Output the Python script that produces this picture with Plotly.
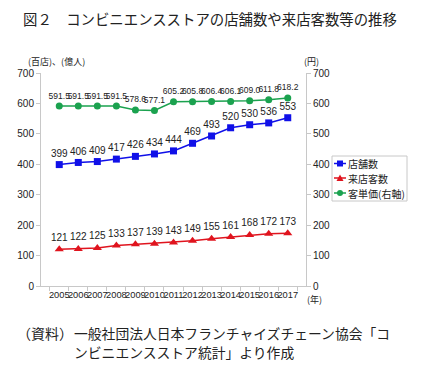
import plotly.graph_objects as go

years = [str(y) for y in range(2005, 2018)]
stores = [399, 406, 409, 417, 426, 434, 444, 469, 493, 520, 530, 536, 553]
visitors = [121, 122, 125, 133, 137, 139, 143, 149, 155, 161, 168, 172, 173]
unit_price = [591.5, 591.5, 591.5, 591.5, 578.6, 577.1, 605.2, 605.8, 606.4, 606.1, 609.0, 611.8, 618.2]
y_ticks = [0, 100, 200, 300, 400, 500, 600, 700]
series_names = ["店舗数", "来店客数", "客単価(右軸)"]
series_colors = ["#1010E8", "#E0141E", "#1BA24F"]

FONT = "Noto Sans CJK JP"
NUM = "Liberation Sans"
W, H = 421, 369
L, R, T, B = 41, 306, 73, 286  # plot area in pixels

fig = go.Figure()
fig.add_trace(go.Scatter(
    x=years, y=stores, name=series_names[0], mode="lines+markers+text",
    line=dict(color=series_colors[0], width=1.5), marker=dict(symbol="square", size=7, color=series_colors[0]),
    text=[str(v) for v in stores], textposition="top center",
    textfont=dict(size=10, color="#222222", family=NUM)))
fig.add_trace(go.Scatter(
    x=years, y=visitors, name=series_names[1], mode="lines+markers+text",
    line=dict(color=series_colors[1], width=1.5), marker=dict(symbol="triangle-up", size=8, color=series_colors[1]),
    text=[str(v) for v in visitors], textposition="top center",
    textfont=dict(size=10, color="#222222", family=NUM)))
fig.add_trace(go.Scatter(
    x=years, y=unit_price, name=series_names[2], mode="lines+markers+text", yaxis="y2",
    line=dict(color=series_colors[2], width=1.5), marker=dict(symbol="circle", size=7, color=series_colors[2]),
    text=[f"{v:.1f}" for v in unit_price], textposition="top center",
    textfont=dict(size=8.5, color="#222222", family=NUM)))

axis_common = dict(showgrid=False, showline=True, linecolor="#C8C8C8", ticks="outside",
                   ticklen=4, tickcolor="#C8C8C8", automargin=False, zeroline=False)

fig.update_layout(
    width=W, height=H,
    margin=dict(l=L, r=W - R, t=T, b=H - B, autoexpand=False),
    paper_bgcolor="white", plot_bgcolor="white",
    font=dict(family=FONT, color="#222222"),
    showlegend=False,
    xaxis=dict(type="category", tickson="boundaries",
               tickfont=dict(size=9.3, family=NUM), tickangle=0, **axis_common),
    yaxis=dict(range=[0, 700], tickvals=y_ticks,
               tickfont=dict(size=10, family=NUM), **axis_common),
    yaxis2=dict(range=[0, 700], tickvals=y_ticks, overlaying="y", side="right",
                tickfont=dict(size=10, family=NUM), **axis_common),
)

def px(x):
    return (x - L) / (R - L)

def py(y):
    return (B - y) / (B - T)

ann = [
    dict(text="図２　コンビニエンスストアの店舗数や来店客数等の推移", x=21, y=18, size=14.4),
    dict(text="(百店)、(億人)", x=26, y=62, size=9),
    dict(text="(円)", x=302, y=62, size=9),
    dict(text="(年)", x=305, y=299, size=9),
    dict(text="（資料）", x=15, y=333, size=14),
    dict(text="一般社団法人日本フランチャイズチェーン協会「コ", x=72, y=333, size=13.8),
    dict(text="ンビニエンスストア統計」より作成", x=72, y=352, size=13.8),
]
for a in ann:
    fig.add_annotation(text=a["text"], xref="paper", yref="paper",
                       x=px(a["x"]), y=py(a["y"]),
                       xanchor="left", yanchor="middle", showarrow=False,
                       font=dict(size=a["size"], family=FONT, color="#222222"))

# legend box drawn manually (fits narrow right margin as in the reference)
fig.add_shape(type="rect", xref="paper", yref="paper",
              x0=px(332), x1=px(407), y0=py(156), y1=py(201),
              line=dict(color="#C8C8C8", width=1), fillcolor="white", layer="above")
rows = [163.5, 178, 193]
symbols = ["square", "triangle", "circle"]
for name, color, sym, ry in zip(series_names, series_colors, symbols, rows):
    fig.add_shape(type="line", xref="paper", yref="paper",
                  x0=px(334), x1=px(346), y0=py(ry), y1=py(ry),
                  line=dict(color=color, width=1.5))
    if sym == "square":
        fig.add_shape(type="rect", xref="paper", yref="paper",
                      x0=px(337), x1=px(343), y0=py(ry - 3), y1=py(ry + 3),
                      line=dict(width=0), fillcolor=color)
    elif sym == "circle":
        fig.add_shape(type="circle", xref="paper", yref="paper",
                      x0=px(337), x1=px(343), y0=py(ry - 3), y1=py(ry + 3),
                      line=dict(width=0), fillcolor=color)
    else:
        fig.add_shape(type="path", xref="paper", yref="paper",
                      path=f"M {px(336.5)} {py(ry + 3)} L {px(343.5)} {py(ry + 3)} L {px(340)} {py(ry - 3.5)} Z",
                      line=dict(width=0), fillcolor=color)
    fig.add_annotation(text=name, xref="paper", yref="paper",
                       x=px(346), y=py(ry), xanchor="left", yanchor="middle",
                       showarrow=False, font=dict(size=10, family=FONT, color="#222222"))

fig.write_html("out.html", config={"displayModeBar": False},
               post_script="document.body.style.margin='0';document.body.style.padding='0';")
